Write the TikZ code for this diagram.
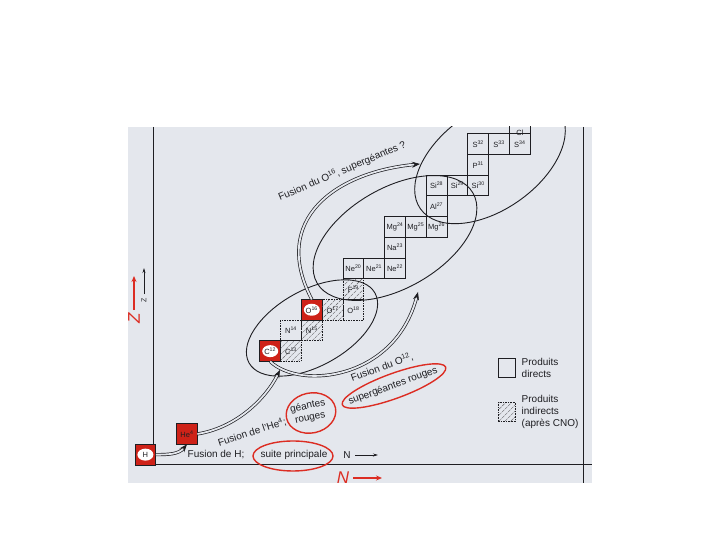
\documentclass[tikz,border=0pt]{standalone}
\usepackage{fontspec}
\setmainfont{Liberation Sans}
\usepackage{xcolor}
\usepackage{tikz}
\usetikzlibrary{shapes,arrows.meta,positioning,patterns.meta}

\definecolor{scan}{RGB}{228,231,237}
\definecolor{ink}{RGB}{30,30,34}
\definecolor{pen}{RGB}{220,45,35}
\definecolor{cellred}{RGB}{206,34,24}

\begin{document}
\begin{tikzpicture}[
  x=1pt, y=1pt,
  cell/.style={rectangle, draw=ink, line width=0.9pt, minimum width=20.8pt, minimum height=20.7pt, inner sep=0pt, outer sep=0pt, text=ink, font=\fontsize{7.5}{8}\selectfont},
  indirect/.style={cell, dash pattern=on 1.6pt off 1pt, pattern={Lines[angle=45, distance=4.2pt, line width=0.4pt]}, pattern color=ink!70},
  dcell/.style={cell, dash pattern=on 1.6pt off 1pt},
  fuel/.style={cell, fill=cellred, path picture={\fill[white] (path picture bounding box.center) ellipse (8pt and 6pt);}},
  zone/.style={ellipse, draw=ink, line width=0.9pt, inner sep=0pt},
  fusion/.style={draw=ink, line width=0.7pt, double=scan, double distance=1.8pt, -{Stealth[length=8pt, width=6pt]}},
  note/.style={text=ink, inner sep=0.5pt, font=\fontsize{10}{12}\selectfont},
  circled/.style={ellipse, draw=pen, line width=1.4pt, inner sep=0pt},
  hand/.style={text=pen, inner sep=0pt, font=\fontsize{17}{17}\selectfont\itshape}
]
\fill[scan] (128,57) rectangle (592,413);
\useasboundingbox (0,0) rectangle (720,540);
\begin{scope}
\clip (128,57) rectangle (592,413);

% zones of the burning stages
\node[zone, rotate=29, minimum width=144pt, minimum height=76pt] (cno) at (312,212) {};
\node[zone, rotate=30, minimum width=180pt, minimum height=100pt] (nemg) at (395,302) {};
\node[zone, rotate=35, minimum width=170pt, minimum height=100pt] (sis) at (490,380) {};

% chart of nuclides
\node[fuel] (h1) at (145.4,85.35) {H};
\node[cell, fill=cellred] (he4) at (187,106.05) {He\textsuperscript{4}};
\node[fuel] (c12) at (270.2,188.85) {C\textsuperscript{12}};
\node[indirect, right=0pt of c12] (c13) {C\textsuperscript{13}};
\node[dcell, above=0pt of c13] (n14) {N\textsuperscript{14}};
\node[indirect, right=0pt of n14] (n15) {N\textsuperscript{15}};
\node[fuel, above=0pt of n15] (o16) {O\textsuperscript{16}};
\node[indirect, right=0pt of o16] (o17) {O\textsuperscript{17}};
\node[dcell, right=0pt of o17] (o18) {O\textsuperscript{18}};
\node[indirect, above=0pt of o18] (f19) {F\textsuperscript{19}};
\node[cell, above=0pt of f19] (ne20) {Ne\textsuperscript{20}};
\node[cell, right=0pt of ne20] (ne21) {Ne\textsuperscript{21}};
\node[cell, right=0pt of ne21] (ne22) {Ne\textsuperscript{22}};
\node[cell, above=0pt of ne22] (na23) {Na\textsuperscript{23}};
\node[cell, above=0pt of na23] (mg24) {Mg\textsuperscript{24}};
\node[cell, right=0pt of mg24] (mg25) {Mg\textsuperscript{25}};
\node[cell, right=0pt of mg25] (mg26) {Mg\textsuperscript{26}};
\node[cell, above=0pt of mg26] (al27) {Al\textsuperscript{27}};
\node[cell, above=0pt of al27] (si28) {Si\textsuperscript{28}};
\node[cell, right=0pt of si28] (si29) {Si\textsuperscript{29}};
\node[cell, right=0pt of si29] (si30) {Si\textsuperscript{30}};
\node[cell, above=0pt of si30] (p31) {P\textsuperscript{31}};
\node[cell, above=0pt of p31] (s32) {S\textsuperscript{32}};
\node[cell, right=0pt of s32] (s33) {S\textsuperscript{33}};
\node[cell, right=0pt of s33] (s34) {S\textsuperscript{34}};
\node[cell, above=0pt of s34] (cl) {};
\node[cell, draw=none, anchor=north] (cltext) at (s34.north |- 0,418) {Cl};

% frame
\coordinate (ztop) at (153.5,413);
\coordinate (nend) at (592,76);
\coordinate (rtop) at (583,413);
\coordinate (rbot) at (583,57);
\draw[ink, line width=0.9pt] (ztop) -- (ztop |- h1.north);
\draw[ink, line width=0.9pt] (h1.east |- nend) -- (nend);
\draw[ink, line width=0.9pt] (rtop) -- (rbot);

% fusion paths
\coordinate (tipA) at (280,170);
\coordinate (tipB) at (418,248);
\coordinate (tipC) at (420,376);
\draw[fusion] (h1.east) to[out=0, in=-130] (he4.south);
\draw[fusion] (he4.east) .. controls (235,112) and (265,140) .. (tipA);
\draw[fusion] (c12.south) .. controls (300,150) and (395,160) .. (tipB);
\draw[fusion] (o16.north) .. controls (270,320) and (335,368) .. (tipC);

% labels
\node[note] (fush) at (216,85) {Fusion de H;};
\node[note] (suite) at (294,85) {suite principale};
\node[circled, minimum width=80pt, minimum height=30pt] (ring1) at (293,84) {};
\node[note, rotate=18] (fushe) at (252,108) {Fusion de l'He\textsuperscript{4};};
\node[note, align=center, rotate=12] (geantes) at (309,128) {géantes\\rouges};
\node[circled, rotate=12, minimum width=50pt, minimum height=40pt] (ring2) at (311,127) {};
\node[note, rotate=20] (fusc) at (382,173) {Fusion du O\textsuperscript{12},};
\node[note, rotate=20] (superg) at (393,154) {supergéantes rouges};
\node[circled, rotate=20, minimum width=110pt, minimum height=25pt] (ring3) at (394,154) {};
\node[note, rotate=23] (fuso) at (342,369) {Fusion du O\textsuperscript{16}, supergéantes ?};

% legend
\node[cell, minimum width=17pt, minimum height=19pt] (direct) at (506.5,172.5) {};
\node[note, right=6pt of direct, align=left] (directlbl) {Produits\\directs};
\node[indirect, minimum width=17pt, minimum height=19pt] (indir) at (506.5,128) {};
\node[note, right=6pt of indir, align=left] (indirlbl) {Produits\\indirects\\(après CNO)};

% axes
\node[note, rotate=90, font=\fontsize{7}{7}\selectfont] (zlbl) at (144,240) {Z};
\coordinate (zup) at (144,272);
\draw[ink, line width=0.7pt, shorten <=3pt, -{Stealth[length=5pt, width=3pt]}] (zlbl.east) -- (zup);
\node[note] (nlbl) at (347,85) {N};
\coordinate (nright) at (378,85);
\draw[ink, line width=0.7pt, shorten <=4pt, -{Stealth[length=5pt, width=3pt]}] (nlbl.east) -- (nright);
\node[hand, rotate=90] (zred) at (134,222) {Z};
\coordinate (zredup) at (134,264);
\draw[pen, line width=1.3pt, shorten <=3pt, -{Stealth[length=6pt, width=5pt]}] (zred.east) -- (zredup);
\node[hand] (nred) at (343,62) {N};
\coordinate (nredright) at (382,62);
\draw[pen, line width=1.3pt, shorten <=4pt, -{Stealth[length=6pt, width=5pt]}] (nred.east) -- (nredright);
\end{scope}
\end{tikzpicture}
\end{document}
